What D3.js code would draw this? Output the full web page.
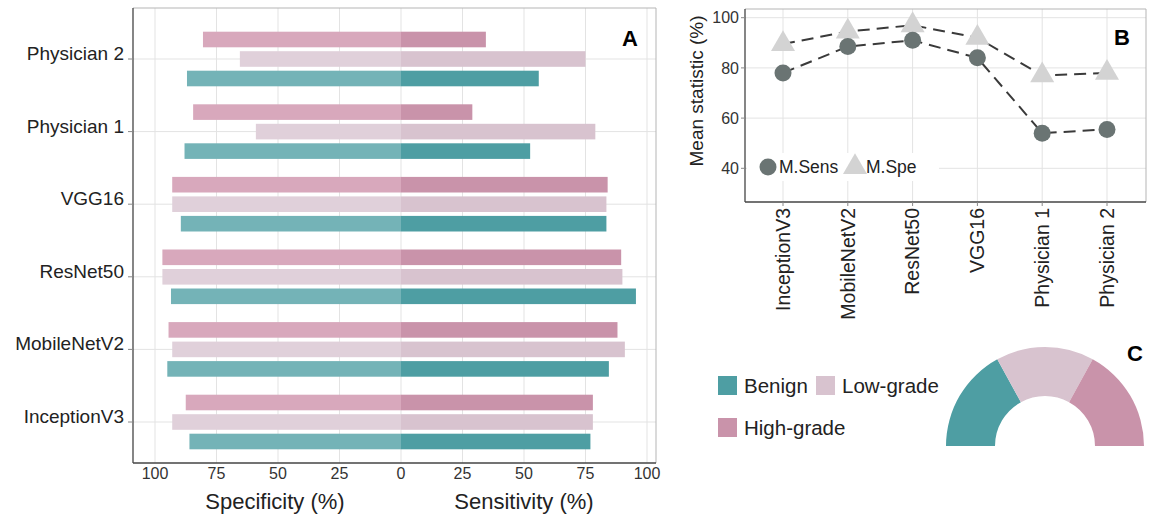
<!DOCTYPE html>
<html>
<head>
<meta charset="utf-8">
<script src="https://cdn.jsdelivr.net/npm/d3@7"></script>
<style>
  html, body { margin: 0; padding: 0; background: #fff; }
  svg { display: block; font-family: "Liberation Sans", Arial, sans-serif; }
</style>
</head>
<body>
<svg id="chart" width="1155" height="515"></svg>
<script>
// ---------- DATA ----------
const models = ["Physician 2", "Physician 1", "VGG16", "ResNet50", "MobileNetV2", "InceptionV3"];
const classes = ["High-grade", "Low-grade", "Benign"];
// sensitivity (%) per model for [High-grade, Low-grade, Benign]
const sensHigh   = [34.5, 29, 84, 89.5, 88, 78];
const sensLow    = [75, 79, 83.5, 90, 91, 78];
const sensBenign = [56, 52.5, 83.5, 95.5, 84.5, 77];
// specificity (%)
const specHigh   = [80.5, 84.5, 93, 97, 94.5, 87.5];
const specLow    = [65.5, 59, 93, 97, 93, 93];
const specBenign = [87, 88, 89.5, 93.5, 95, 86];

const xTicksA = [-100, -75, -50, -25, 0, 25, 50, 75, 100];

// panel B
const bCats = ["InceptionV3", "MobileNetV2", "ResNet50", "VGG16", "Physician 1", "Physician 2"];
const mSens = [78, 88.5, 91, 84, 54, 55.5];
const mSpe  = [89.5, 94.5, 97, 92, 77, 78];
const yTicksB = [40, 60, 80, 100];

// panel C
const donutLabels = ["Benign", "Low-grade", "High-grade"];
const donutValues = [34, 32, 34];

// ---------- STYLE ----------
const colSens = { "Benign": "#4e9ea3", "Low-grade": "#d8c3cf", "High-grade": "#c993aa" };
const colSpec = { "Benign": "#74b3b7", "Low-grade": "#e0d0da", "High-grade": "#d8a8bc" };
const gridCol = "#e3e3e3";
const textCol = "#222";

const svg = d3.select("#chart");

// ================= PANEL A =================
const A = { left: 133, right: 656, top: 8, bottom: 463 };
const xA = d3.scaleLinear().domain([-100, 100]).range([155, 647]);
const yA = d3.scalePoint().domain(models).range([59, 422]);
const sub = d3.scaleBand().domain(classes).range([-29.25, 29.25]).paddingInner(0.2).paddingOuter(0.1);

const gA = svg.append("g");
gA.selectAll("line.vg").data(xTicksA).join("line")
  .attr("x1", d => xA(d)).attr("x2", d => xA(d))
  .attr("y1", A.top).attr("y2", A.bottom)
  .attr("stroke", gridCol).attr("stroke-width", 1);
gA.selectAll("line.hg").data(models).join("line")
  .attr("x1", A.left).attr("x2", A.right)
  .attr("y1", d => yA(d)).attr("y2", d => yA(d))
  .attr("stroke", gridCol).attr("stroke-width", 1);

const rows = [];
models.forEach((m, i) => {
  rows.push({ m, c: "High-grade", sens: sensHigh[i], spec: specHigh[i] });
  rows.push({ m, c: "Low-grade", sens: sensLow[i], spec: specLow[i] });
  rows.push({ m, c: "Benign", sens: sensBenign[i], spec: specBenign[i] });
});
gA.selectAll("rect.spec").data(rows).join("rect")
  .attr("x", d => xA(-d.spec)).attr("width", d => xA(0) - xA(-d.spec))
  .attr("y", d => yA(d.m) + sub(d.c)).attr("height", sub.bandwidth())
  .attr("fill", d => colSpec[d.c]);
gA.selectAll("rect.sens").data(rows).join("rect")
  .attr("x", xA(0)).attr("width", d => xA(d.sens) - xA(0))
  .attr("y", d => yA(d.m) + sub(d.c)).attr("height", sub.bandwidth())
  .attr("fill", d => colSens[d.c]);

gA.append("line").attr("x1", A.left).attr("x2", A.right).attr("y1", A.top).attr("y2", A.top).attr("stroke", "#b5b5b5");
gA.append("line").attr("x1", A.right).attr("x2", A.right).attr("y1", A.top).attr("y2", A.bottom).attr("stroke", "#b5b5b5");
gA.append("line").attr("x1", A.left).attr("x2", A.left).attr("y1", A.top).attr("y2", A.bottom).attr("stroke", "#444").attr("stroke-width", 1.3);
gA.append("line").attr("x1", A.left).attr("x2", A.right).attr("y1", A.bottom).attr("y2", A.bottom).attr("stroke", "#444").attr("stroke-width", 1.3);

gA.selectAll("line.yt").data(models).join("line")
  .attr("x1", A.left - 5).attr("x2", A.left).attr("y1", d => yA(d)).attr("y2", d => yA(d))
  .attr("stroke", "#888");
gA.selectAll("text.yl").data(models).join("text")
  .attr("x", 124).attr("y", d => yA(d) + 1)
  .attr("text-anchor", "end").attr("font-size", 19).attr("fill", textCol)
  .text(d => d);
gA.selectAll("text.xl").data(xTicksA).join("text")
  .attr("x", d => xA(d)).attr("y", 479)
  .attr("text-anchor", "middle").attr("font-size", 16).attr("fill", "#333")
  .text(d => Math.abs(d));
gA.append("text").attr("x", 275).attr("y", 509).attr("text-anchor", "middle")
  .attr("font-size", 22).attr("fill", textCol).text("Specificity (%)");
gA.append("text").attr("x", 524).attr("y", 509).attr("text-anchor", "middle")
  .attr("font-size", 22).attr("fill", textCol).text("Sensitivity (%)");
gA.append("text").attr("x", 630).attr("y", 46).attr("text-anchor", "middle")
  .attr("font-size", 22).attr("font-weight", "bold").attr("fill", "#000").text("A");

// ================= PANEL B =================
const B = { left: 745, right: 1146, top: 9, bottom: 202 };
const xB = d3.scalePoint().domain(bCats).range([783, 1107]);
const yB = d3.scaleLinear().domain([40, 100]).range([168.3, 17.7]);
const gB = svg.append("g");

gB.selectAll("line.vg").data(bCats).join("line")
  .attr("x1", d => xB(d)).attr("x2", d => xB(d)).attr("y1", B.top).attr("y2", B.bottom)
  .attr("stroke", gridCol);
gB.selectAll("line.hg").data(yTicksB).join("line")
  .attr("x1", B.left).attr("x2", B.right).attr("y1", d => yB(d)).attr("y2", d => yB(d))
  .attr("stroke", gridCol);

const line = d3.line().x((d, i) => xB(bCats[i])).y(d => yB(d));
gB.append("path").datum(mSpe).attr("d", line).attr("fill", "none")
  .attr("stroke", "#3a3a3a").attr("stroke-width", 2).attr("stroke-dasharray", "12,7");
gB.append("path").datum(mSens).attr("d", line).attr("fill", "none")
  .attr("stroke", "#3a3a3a").attr("stroke-width", 2).attr("stroke-dasharray", "12,7");

const tri = d3.symbol().type(d3.symbolTriangle).size(250);
gB.selectAll("path.tri").data(mSpe).join("path")
  .attr("d", tri).attr("transform", (d, i) => `translate(${xB(bCats[i])},${yB(d)})`)
  .attr("fill", "#d3d3d3");
gB.selectAll("circle.pt").data(mSens).join("circle")
  .attr("cx", (d, i) => xB(bCats[i])).attr("cy", d => yB(d)).attr("r", 8.5)
  .attr("fill", "#6a7473");

const lg = gB.append("g");
lg.append("rect").attr("x", B.left + 2).attr("y", 153).attr("width", 192).attr("height", 28).attr("fill", "#fff");
lg.append("circle").attr("cx", 768).attr("cy", 167).attr("r", 8.5).attr("fill", "#6a7473");
lg.append("text").attr("x", 779).attr("y", 173).attr("font-size", 17.5).attr("fill", textCol).text("M.Sens");
lg.append("path").attr("d", tri).attr("transform", "translate(855,167)").attr("fill", "#d3d3d3");
lg.append("text").attr("x", 866).attr("y", 173).attr("font-size", 17.5).attr("fill", textCol).text("M.Spe");

gB.append("line").attr("x1", B.left).attr("x2", B.right).attr("y1", B.top).attr("y2", B.top).attr("stroke", "#b5b5b5");
gB.append("line").attr("x1", B.right).attr("x2", B.right).attr("y1", B.top).attr("y2", B.bottom).attr("stroke", "#b5b5b5");
gB.append("line").attr("x1", B.left).attr("x2", B.left).attr("y1", B.top).attr("y2", B.bottom).attr("stroke", "#444").attr("stroke-width", 1.3);
gB.append("line").attr("x1", B.left).attr("x2", B.right).attr("y1", B.bottom).attr("y2", B.bottom).attr("stroke", "#444").attr("stroke-width", 1.3);

gB.selectAll("line.yt").data(yTicksB).join("line")
  .attr("x1", B.left - 4).attr("x2", B.left).attr("y1", d => yB(d)).attr("y2", d => yB(d)).attr("stroke", "#888");
gB.selectAll("text.yl").data(yTicksB).join("text")
  .attr("x", B.left - 6).attr("y", d => yB(d)).attr("dy", "0.35em")
  .attr("text-anchor", "end").attr("font-size", 16).attr("fill", "#333").text(d => d);
gB.selectAll("line.xt").data(bCats).join("line")
  .attr("x1", d => xB(d)).attr("x2", d => xB(d)).attr("y1", B.bottom).attr("y2", B.bottom + 4).attr("stroke", "#888");
gB.selectAll("text.xl").data(bCats).join("text")
  .attr("transform", d => `translate(${xB(d)},${B.bottom + 6}) rotate(-90)`)
  .attr("dy", "0.35em").attr("text-anchor", "end").attr("font-size", 19.5).attr("fill", textCol).text(d => d);
gB.append("text").attr("transform", "translate(703,91) rotate(-90)")
  .attr("text-anchor", "middle").attr("font-size", 19).attr("fill", textCol).text("Mean statistic (%)");
gB.append("text").attr("x", 1122).attr("y", 45).attr("text-anchor", "middle")
  .attr("font-size", 22).attr("font-weight", "bold").attr("fill", "#000").text("B");

// ================= PANEL C =================
const gC = svg.append("g");
const legPos = [[718, 376], [816, 376], [718, 418]];
donutLabels.forEach((lab, i) => {
  gC.append("rect").attr("x", legPos[i][0]).attr("y", legPos[i][1]).attr("width", 19).attr("height", 19)
    .attr("fill", colSens[lab]);
  gC.append("text").attr("x", legPos[i][0] + 26).attr("y", legPos[i][1] + 17)
    .attr("font-size", 20.5).attr("fill", textCol).text(lab);
});

const pie = d3.pie().sort(null).startAngle(-Math.PI / 2).endAngle(Math.PI / 2);
const arc = d3.arc().innerRadius(50).outerRadius(99);
gC.append("g").attr("transform", "translate(1045,446)")
  .selectAll("path").data(pie(donutValues)).join("path")
  .attr("d", arc).attr("fill", (d, i) => colSens[donutLabels[i]]);
gC.append("text").attr("x", 1135).attr("y", 361).attr("text-anchor", "middle")
  .attr("font-size", 22).attr("font-weight", "bold").attr("fill", "#000").text("C");
</script>
</body>
</html>
